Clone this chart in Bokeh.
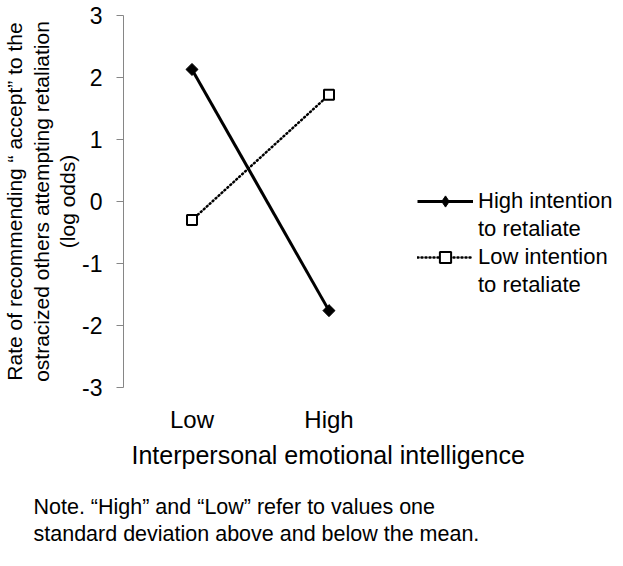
import math
from bokeh.plotting import figure
from bokeh.models import (Range1d, FixedTicker, Legend, LegendItem,
                          ColumnDataSource, Title)
from bokeh.core.properties import value
from bokeh.embed import file_html
from bokeh.resources import INLINE

# ---- data ----
categories = ["Low", "High"]
high_intention = [2.13, -1.76]
low_intention = [-0.30, 1.72]
y_ticks = [-3, -2, -1, 0, 1, 2, 3]
y_tick_labels = ["-3", "-2", "-1", "0", "1", "2", "3"]
series_names = ["High intention", "Low intention"]
legend_second_line = "to retaliate"
x_title = "Interpersonal emotional intelligence"
y_title_lines = ["Rate of recommending \u201c accept\u201d to the",
                 "ostracized others attempting retaliation",
                 "(log odds)"]
note_lines = ["Note. \u201cHigh\u201d and \u201cLow\u201d refer to values one",
              "standard deviation above and below the mean."]

FONT = "Liberation Sans"
AXIS_GRAY = "#868686"

# category slots: each category occupies one unit, centred at i + 0.5
x_pos = [i + 0.5 for i in range(len(categories))]

p = figure(width=623, height=566,
           x_range=Range1d(0, 3.65), y_range=Range1d(-3, 3),
           output_backend="svg", toolbar_location=None, title=None,
           min_border_left=123, min_border_right=0,
           min_border_top=15, min_border_bottom=179)
p.outline_line_color = None
p.xgrid.grid_line_color = None
p.ygrid.grid_line_color = None
p.background_fill_color = "white"
p.border_fill_color = "white"

xa = p.xaxis[0]
xa.ticker = FixedTicker(ticks=x_pos)
xa.major_label_overrides = dict(zip(x_pos, categories))
xa.axis_line_color = None
xa.major_tick_line_color = None
xa.minor_tick_line_color = None
xa.major_tick_out = 0
xa.major_tick_in = 0
xa.major_label_text_font = FONT
xa.major_label_text_font_size = "24px"
xa.major_label_text_color = "black"
xa.major_label_standoff = 18

ya = p.yaxis[0]
ya.ticker = FixedTicker(ticks=y_ticks)
ya.major_label_overrides = dict(zip(y_ticks, y_tick_labels))
ya.axis_line_color = AXIS_GRAY
ya.axis_line_width = 1
ya.major_tick_line_color = AXIS_GRAY
ya.major_tick_out = 7
ya.major_tick_in = 0
ya.minor_tick_line_color = None
ya.major_label_text_font = FONT
ya.major_label_text_font_size = "23px"
ya.major_label_text_color = "black"
ya.major_label_standoff = 14
ya.axis_label = "\n".join(y_title_lines)
ya.axis_label_text_font = FONT
ya.axis_label_text_font_size = "21px"
ya.axis_label_text_font_style = "normal"
ya.axis_label_text_color = "black"
ya.axis_label_text_line_height = 1.15
ya.axis_label_standoff = 0

src = ColumnDataSource(dict(x=x_pos, high=high_intention, low=low_intention))

r_high_line = p.line("x", "high", source=src, line_color="black", line_width=3)
r_high_pts = p.scatter("x", "high", source=src, marker="square", angle=math.pi / 4,
                       size=8.5, fill_color="black", line_color="black", line_width=1)
r_high_leg = p.scatter("x", "high", source=src, marker="diamond", size=12,
                       fill_color="black", line_color="black", line_width=1, visible=False)

r_low_line = p.line("x", "low", source=src, line_color="black", line_width=2.5,
                    line_dash="1 3", line_cap="round")
r_low_pts = p.scatter("x", "low", source=src, marker="square", size=10,
                      fill_color="white", line_color="black", line_width=2)

legend = Legend(items=[
    LegendItem(label=value(series_names[0]), renderers=[r_high_line, r_high_leg]),
    LegendItem(label=value(legend_second_line), renderers=[]),
    LegendItem(label=value(series_names[1]), renderers=[r_low_line, r_low_pts]),
    LegendItem(label=value(legend_second_line), renderers=[]),
], location=(294, 88), orientation="vertical", glyph_width=56, glyph_height=28,
    label_height=28, spacing=0, padding=0, margin=0, label_standoff=5,
    border_line_color=None, background_fill_alpha=0,
    label_text_font=FONT, label_text_font_size="22px", label_text_color="black")
p.add_layout(legend)

p.add_layout(Title(text=x_title, align="left", offset=8, standoff=7,
                   text_font=FONT, text_font_size="25px", text_font_style="normal",
                   text_color="black"), "below")
p.add_layout(Title(text="\n".join(note_lines), align="left", offset=-90, standoff=41,
                   vertical_align="bottom",
                   text_font=FONT, text_font_size="21.5px", text_font_style="normal",
                   text_color="black", text_line_height=1.12), "below")

open("out.html", "w").write(file_html(p, INLINE))
